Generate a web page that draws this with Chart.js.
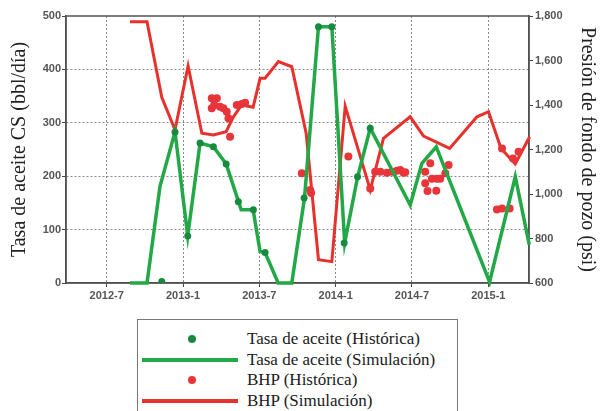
<!DOCTYPE html>
<html>
<head>
<meta charset="utf-8">
<script src="https://cdn.jsdelivr.net/npm/chart.js@4.4.1/dist/chart.umd.min.js"></script>
<style>
  html, body { margin:0; padding:0; background:#fff; }
  #wrap { position:relative; width:600px; height:411px; overflow:hidden; }
  #legend { position:absolute; left:137px; top:319px; width:321px; height:100px;
            border:1.5px solid #777; border-bottom:none; box-sizing:border-box;
            font-family:"Liberation Serif", serif; font-size:17px; color:#1a1a1a; }
  .row { position:absolute; left:0; height:20px; width:100%; }
  .row span.txt { position:absolute; left:109px; top:0; line-height:20px; white-space:nowrap; }
  .mk-line { position:absolute; left:4px; width:96px; height:4px; top:8px; }
  .mk-dot { position:absolute; left:50px; width:8px; height:8px; top:6px; border-radius:50%; }
</style>
</head>
<body>
<div id="wrap">
  <canvas id="chart" width="600" height="310"></canvas>
  <div id="legend"></div>
</div>
<script>
// months counted from 2012-1 (0 = 2012-1, 12 = 2013-1)
var xTicks = [6, 12, 18, 24, 30, 36];

var seriesLabels = ['Tasa de aceite (Histórica)', 'Tasa de aceite (Simulación)', 'BHP (Histórica)', 'BHP (Simulación)'];
var leftTitle = 'Tasa de aceite CS (bbl/día)';
var rightTitle = 'Presión de fondo de pozo (psi)';

// oil rate, historical
var oilHistX = [10.33, 11.37, 12.37, 13.34, 14.39, 15.39, 16.35, 17.53, 18.45, 21.52, 22.65, 23.70, 24.67, 25.72, 26.72];
var oilHistY = [3, 283, 88, 262, 255, 223, 152, 137, 57, 159, 480, 480, 75, 199, 290];

// oil rate, simulation
var oilSimX = [7.83, 9.17, 10.19, 11.37, 12.37, 13.34, 14.39, 15.39, 16.37, 16.57, 17.51, 18.06, 18.45, 19.48, 20.55, 21.55, 22.65, 23.70, 24.71, 25.73, 26.72, 29.86, 30.78, 31.91, 36.10, 38.12, 39.22];
var oilSimY = [0, 0, 181, 283, 88, 262, 255, 223, 152, 137, 137, 59, 57, 0, 0, 159, 480, 480, 75, 199, 290, 146, 224, 255, 2, 199, 72];

// BHP, historical
var bhpHistX = [14.26, 14.66, 14.26, 14.46, 14.91, 15.17, 15.44, 15.57, 15.70, 16.23, 16.62, 16.88,
                21.34, 22.00, 22.07, 25.00, 26.72, 27.11, 27.51, 28.03, 28.42, 28.82, 29.08, 29.34, 29.47,
                31.04, 31.44, 31.04, 31.57, 31.96, 32.22, 31.22, 31.91, 32.62, 32.88,
                36.68, 37.08, 37.68, 37.08, 37.94, 38.38];
var bhpHistY = [1430, 1430, 1385, 1400, 1392, 1385, 1370, 1340, 1257, 1400, 1405, 1410,
                1093, 1018, 1005, 1168, 1025, 1100, 1100, 1095, 1100, 1105, 1108, 1095, 1098,
                1100, 1138, 1048, 1068, 1068, 1068, 1013, 1015, 1093, 1130,
                930, 935, 935, 1205, 1160, 1190];

// BHP, simulation
var bhpSimX = [7.83, 9.17, 10.33, 11.37, 12.40, 13.48, 14.39, 15.39, 15.96, 16.62, 17.51, 18.06, 18.45, 19.50, 20.55, 21.68, 22.65, 23.70, 24.75, 26.72, 27.76, 29.86, 30.91, 32.96, 35.11, 36.02, 37.00, 38.12, 39.25];
var bhpSimY = [1774, 1774, 1435, 1288, 1575, 1273, 1265, 1280, 1347, 1400, 1390, 1520, 1520, 1595, 1572, 1273, 705, 696, 1395, 1018, 1250, 1347, 1260, 1205, 1347, 1370, 1205, 1135, 1257];

function pts(xs, ys) { return xs.map(function(x, i){ return {x:x, y:ys[i]}; }); }
function monthLabel(v) { return (2012 + Math.floor(v / 12)) + '-' + (v % 12 + 1); }

var green = '#22a846', greenDot = '#178a3e', red = '#e6312c', redDot = '#e8353a';

var frame = {
  id: 'frame',
  beforeDatasetsDraw: function(chart) {
    var a = chart.chartArea, c = chart.ctx;
    c.save();
    c.strokeStyle = '#555';
    c.lineWidth = 1.5;
    c.strokeRect(a.left, a.top, a.right - a.left, a.bottom - a.top);
    c.restore();
  }
};

var tickFont = {family:'Liberation Sans', size:11, weight:'bold'};
var titleFont = {family:'Liberation Serif', size:20};

var chart = new Chart(document.getElementById('chart'), {
  type: 'line',
  data: {
    datasets: [
      {label: seriesLabels[0], data: pts(oilHistX, oilHistY), yAxisID:'y', showLine:false,
       pointRadius:3.5, pointBackgroundColor:greenDot, pointBorderWidth:0, borderColor:greenDot},
      {label: seriesLabels[1], data: pts(oilSimX, oilSimY), yAxisID:'y', borderColor:green,
       borderWidth:3.5, pointRadius:0, tension:0, clip:false},
      {label: seriesLabels[2], data: pts(bhpHistX, bhpHistY), yAxisID:'y1', showLine:false,
       pointRadius:4, pointBackgroundColor:redDot, pointBorderWidth:0, borderColor:redDot},
      {label: seriesLabels[3], data: pts(bhpSimX, bhpSimY), yAxisID:'y1', borderColor:red,
       borderWidth:3, pointRadius:0, tension:0, clip:false}
    ]
  },
  options: {
    responsive: false,
    animation: false,
    layout: {padding: {top: 16, left: 0, right: 0, bottom: 0}},
    plugins: {legend: {display:false}, tooltip: {enabled:false}},
    scales: {
      x: {
        type: 'linear', position: 'bottom', min: 2.8, max: 39.2,
        afterBuildTicks: function(s){ s.ticks = xTicks.map(function(v){ return {value:v}; }); },
        afterFit: function(s){ s.height = 27; },
        ticks: {callback: function(v){ return monthLabel(v); }, font: tickFont, color:'#555', padding:2, maxRotation:0},
        grid: {color:'#8a8a8a', lineWidth:1, tickLength:4, tickColor:'#444', tickBorderDash:[]},
        border: {color:'#444', width:1.5, dash:[2, 2]}
      },
      y: {
        position: 'left', min: 0, max: 500,
        afterFit: function(s){ s.width = 66; },
        ticks: {stepSize:100, font: tickFont, color:'#555', padding:1},
        grid: {color: function(ctx){ return (ctx.tick && (ctx.tick.value === 0 || ctx.tick.value === 500)) ? 'rgba(0,0,0,0)' : '#8a8a8a'; },
               tickColor:'#444', tickLength:4, tickBorderDash:[]},
        border: {color:'#444', width:1.5, dash:[2, 2]},
        title: {display:true, text:leftTitle, font:titleFont, color:'#222', padding:{top:8, bottom:0}}
      },
      y1: {
        position: 'right', min: 600, max: 1800,
        afterFit: function(s){ s.width = 71; },
        ticks: {stepSize:200, font: tickFont, color:'#555', padding:2},
        grid: {drawOnChartArea:false, tickColor:'#444', tickLength:4},
        border: {color:'#444', width:1.5},
        title: {display:true, text:rightTitle, font:titleFont, color:'#222', padding:{top:1, bottom:0}}
      }
    }
  },
  plugins: [frame]
});

// legend below the chart, built from the datasets
var legend = document.getElementById('legend');
chart.data.datasets.forEach(function(ds, i){
  var row = document.createElement('div');
  row.className = 'row';
  row.style.top = (9 + i * 20.5) + 'px';
  var mk = document.createElement('div');
  if (ds.showLine === false) {
    mk.className = 'mk-dot';
    mk.style.background = ds.pointBackgroundColor;
  } else {
    mk.className = 'mk-line';
    mk.style.background = ds.borderColor;
  }
  var t = document.createElement('span');
  t.className = 'txt';
  t.textContent = ds.label;
  row.appendChild(mk);
  row.appendChild(t);
  legend.appendChild(row);
});
</script>
</body>
</html>
